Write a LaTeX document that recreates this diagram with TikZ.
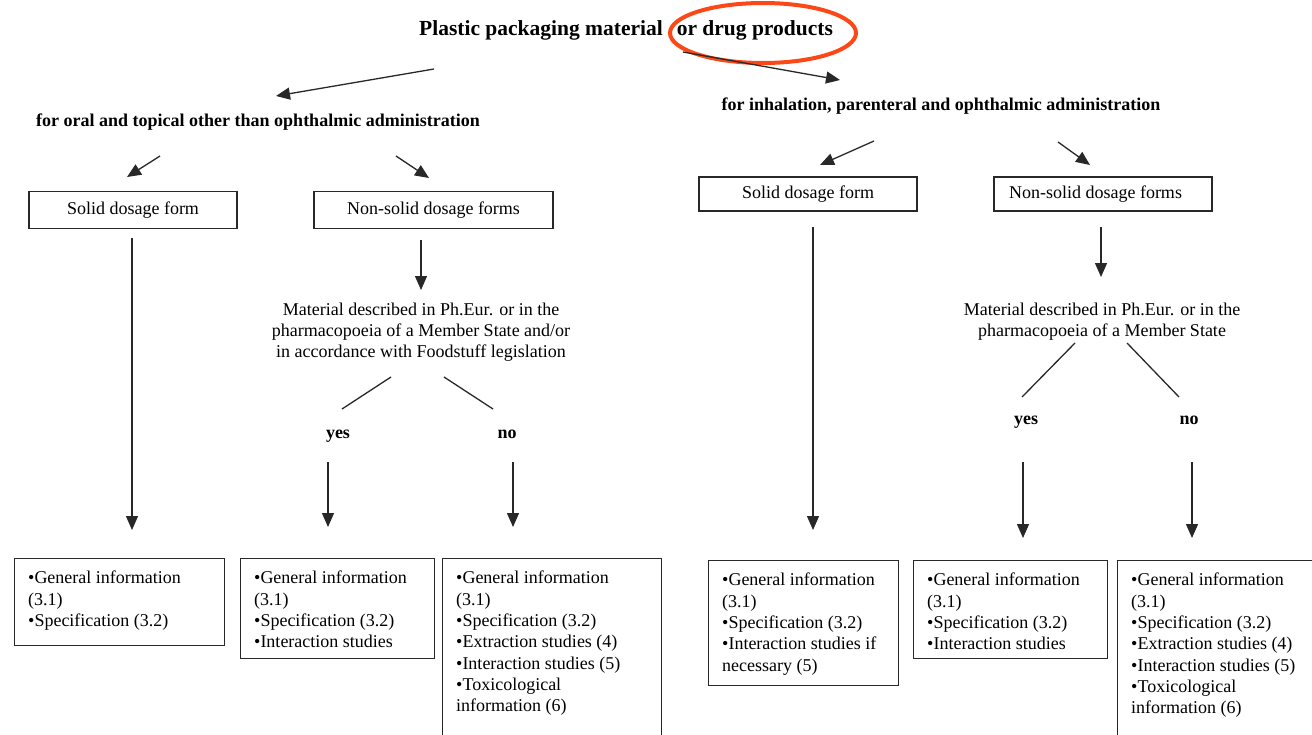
\documentclass[tikz,border=0pt]{standalone}
\usepackage{fontspec}
\setmainfont{Liberation Serif}
\usetikzlibrary{arrows.meta,shapes.geometric}
\definecolor{ln}{RGB}{40,40,40}
\definecolor{redmark}{RGB}{252,72,22}
\newcommand\bodyf{\fontsize{18}{21.3}\selectfont}
\newcommand\headf{\fontsize{18}{21}\selectfont\bfseries}
\newcommand\titlef{\fontsize{21.5}{26}\selectfont\bfseries}
\tikzset{
  lbox/.style={draw=ln, line width=1.3pt, font=\bodyf, inner sep=0pt},
  btxt/.style={font=\bodyf, inner sep=0pt, align=left, anchor=north west},
  arrow/.style={draw=ln, line width=1.3pt, -{Triangle[length=14pt,width=12pt]}},
  plain/.style={draw=ln, line width=1.3pt},
  head/.style={font=\headf, inner sep=0pt},
  mtxt/.style={font=\bodyf, inner sep=0pt, align=center},
}
\begin{document}
\begin{tikzpicture}[x=1pt,y=-1pt]
\useasboundingbox (0,0) rectangle (1312,734);
\clip (0,0) rectangle (1312,734);

% title and mark
\node[font=\titlef, inner sep=0pt] (title) at (626,30) {Plastic packaging material\hspace{14pt}or drug products};
\node[draw=redmark, line width=4pt, ellipse, minimum width=186pt, minimum height=60pt, inner sep=0pt] (mark) at (763,33) {};

% sub headings
\node[head] (subL) at (258,122) {for oral and topical other than ophthalmic administration};
\node[head] (subR) at (941,106) {for inhalation, parenteral and ophthalmic administration};

\coordinate (tL0) at (434,69); \coordinate (tL1) at (276,96);
\coordinate (tR0) at (683,52); \coordinate (tR1) at (840,80);
\draw[arrow] (tL0) -- (tL1);
\draw[arrow] (tR0) -- (tR1);

% first row boxes
\node[lbox, minimum width=208, minimum height=37] (sdfL) at (133,210) {Solid dosage form};
\node[lbox, minimum width=239, minimum height=37] (nsdfL) at (433.5,210) {Non-solid dosage forms};
\node[lbox, minimum width=218, minimum height=34] (sdfR) at (808,194) {Solid dosage form};
\node[lbox, minimum width=218, minimum height=34] (nsdfR) at (1103,194) {\hspace*{-15pt}Non-solid dosage forms};

\coordinate (sL0) at (160,156); \coordinate (sL1) at (127,177);
\coordinate (sL2) at (396,156); \coordinate (sL3) at (429,178);
\coordinate (sR0) at (874,141); \coordinate (sR1) at (820,165);
\coordinate (sR2) at (1058,142); \coordinate (sR3) at (1090,165);
\draw[arrow] (sL0) -- (sL1);
\draw[arrow] (sL2) -- (sL3);
\draw[arrow] (sR0) -- (sR1);
\draw[arrow] (sR2) -- (sR3);

% material questions
\node[mtxt] (matL) at (421,332) {Material described in Ph.Eur. or in the\\pharmacopoeia of a Member State and/or\\in accordance with Foodstuff legislation};
\node[mtxt] (matR) at (1102,322) {Material described in Ph.Eur. or in the\\pharmacopoeia of a Member State};

\node[head] (yesL) at (338,436) {yes};
\node[head] (noL) at (507,434) {no};
\node[head] (yesR) at (1026,422) {yes};
\node[head] (noR) at (1189,420) {no};

\coordinate (mL0) at (391,377); \coordinate (mL1) at (342,409);
\coordinate (mL2) at (444,377); \coordinate (mL3) at (493,409);
\coordinate (mR0) at (1075,343); \coordinate (mR1) at (1022,397);
\coordinate (mR2) at (1127,343); \coordinate (mR3) at (1179,397);
\draw[plain] (mL0) -- (mL1);
\draw[plain] (mL2) -- (mL3);
\draw[plain] (mR0) -- (mR1);
\draw[plain] (mR2) -- (mR3);

% vertical arrows
\coordinate (a1) at (132,238); \coordinate (a1e) at (132,530);
\coordinate (a2) at (421,240); \coordinate (a2e) at (421,290);
\coordinate (a3) at (328,462); \coordinate (a3e) at (328,527);
\coordinate (a4) at (513,462); \coordinate (a4e) at (513,527);
\coordinate (a5) at (813,227); \coordinate (a5e) at (813,530);
\coordinate (a6) at (1101,227); \coordinate (a6e) at (1101,277);
\coordinate (a7) at (1023,462); \coordinate (a7e) at (1023,538);
\coordinate (a8) at (1192,462); \coordinate (a8e) at (1192,538);
\foreach \s/\e in {a1/a1e,a2/a2e,a3/a3e,a4/a4e,a5/a5e,a6/a6e,a7/a7e,a8/a8e}
  \draw[arrow] (\s) -- (\e);

% bottom boxes
\node[lbox, anchor=north west, minimum width=210, minimum height=87] (b1) at (14,558) {};
\node[lbox, anchor=north west, minimum width=194, minimum height=100] (b2) at (240,558) {};
\node[lbox, anchor=north west, minimum width=219, minimum height=200] (b3) at (442,558) {};
\node[lbox, anchor=north west, minimum width=190, minimum height=125] (b4) at (708,560) {};
\node[lbox, anchor=north west, minimum width=194, minimum height=98] (b5) at (913,560) {};
\node[lbox, anchor=north west, minimum width=220, minimum height=200] (b6) at (1117,560) {};

\node[btxt] (t1) at ([xshift=14pt,yshift=-13pt]b1.north west) {•General information\\(3.1)\\•Specification (3.2)};
\node[btxt] (t2) at ([xshift=14pt,yshift=-13pt]b2.north west) {•General information\\(3.1)\\•Specification (3.2)\\•Interaction studies};
\node[btxt] (t3) at ([xshift=14pt,yshift=-13pt]b3.north west) {•General information\\(3.1)\\•Specification (3.2)\\•Extraction studies (4)\\•Interaction studies (5)\\•Toxicological\\information (6)};
\node[btxt] (t4) at ([xshift=14pt,yshift=-13pt]b4.north west) {•General information\\(3.1)\\•Specification (3.2)\\•Interaction studies if\\necessary (5)};
\node[btxt] (t5) at ([xshift=14pt,yshift=-13pt]b5.north west) {•General information\\(3.1)\\•Specification (3.2)\\•Interaction studies};
\node[btxt] (t6) at ([xshift=14pt,yshift=-13pt]b6.north west) {•General information\\(3.1)\\•Specification (3.2)\\•Extraction studies (4)\\•Interaction studies (5)\\•Toxicological\\information (6)};
\end{tikzpicture}
\end{document}
